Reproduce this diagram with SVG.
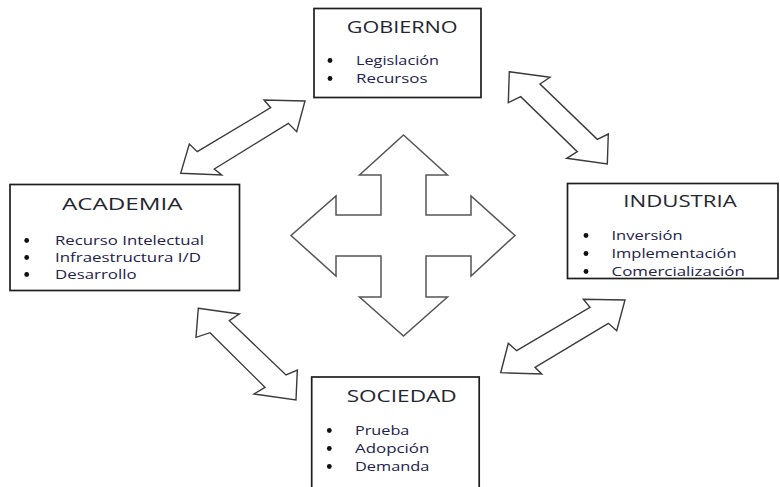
<svg xmlns="http://www.w3.org/2000/svg" width="780" height="487" viewBox="0 0 780 487">
  <style>
    .box { fill: #ffffff; stroke: #1e1e1e; stroke-width: 1.7; }
    .title { font-family: "Open Sans", "Noto Sans", "DejaVu Sans", sans-serif; font-size: 16px; font-weight: 500; fill: #262630; }
    .item { font-family: "Open Sans", "Noto Sans", "DejaVu Sans", sans-serif; font-size: 13.5px; font-weight: 500; fill: #22214a; }
    .dot { fill: #111111; }
    .arrow { fill: #ffffff; stroke: #3a3a3a; stroke-width: 1.4; stroke-linejoin: miter; }
    .cross { fill: #ffffff; stroke: #555555; stroke-width: 1.5; stroke-linejoin: miter; }
  </style>

  <!-- Double-headed block arrows linking the four sectors -->
  <g id="connectors">
    <polygon class="arrow" points="305,101 264,100 270.7,107.7 197.3,151.7 189.3,144 180.7,173.3 221.7,175 214.3,169 288.3,123.3 296.7,131.7"/>
    <polygon class="arrow" points="509.3,71.7 550,77.3 540,84 597.3,139.3 608.3,134 607.3,164 566.7,158.3 577.3,151.7 520.7,96.7 508.3,102.7"/>
    <polygon class="arrow" points="198.3,308.3 239.3,314 229.3,320.7 286,375 297.3,370 296,400 254,394 265,387.3 210,332.7 196,337.3"/>
    <polygon class="arrow" points="625,300 583.3,299.3 590,307.3 516.7,350.7 508.3,343.3 500.7,372.7 541.7,374 535,367.3 608.3,323.3 616.7,330.7"/>
    <!-- four-way arrow in the centre -->
    <polygon class="cross" points="403.5,135 447.5,175 426,175 426,215 471,215 471,196 515,235.5 471,276 471,256 426,256 426,297 447.5,297 403.5,336 359.5,297 381,297 381,256 336,256 336,276 291,235.5 336,196 336,215 381,215 381,175 359.5,175"/>
  </g>

  <g id="gobierno">
    <rect class="box" x="314" y="8.5" width="167" height="89"/>
    <text class="title" x="346.7" y="32.5" textLength="111" lengthAdjust="spacingAndGlyphs">GOBIERNO</text>
    <circle class="dot" cx="330" cy="60.5" r="2.4"/>
    <text class="item" x="356" y="64.5" textLength="83" lengthAdjust="spacingAndGlyphs">Legislación</text>
    <circle class="dot" cx="330" cy="78.5" r="2.4"/>
    <text class="item" x="356" y="82.5" textLength="71.5" lengthAdjust="spacingAndGlyphs">Recursos</text>
  </g>

  <g id="academia">
    <rect class="box" x="10" y="184.5" width="229.5" height="106"/>
    <text class="title" x="62" y="209.5" textLength="120.5" lengthAdjust="spacingAndGlyphs">ACADEMIA</text>
    <circle class="dot" cx="26.7" cy="240.5" r="2.4"/>
    <text class="item" x="55" y="244.5" textLength="149" lengthAdjust="spacingAndGlyphs">Recurso Intelectual</text>
    <circle class="dot" cx="26.7" cy="257.5" r="2.4"/>
    <text class="item" x="55" y="261.5" textLength="146" lengthAdjust="spacingAndGlyphs">Infraestructura I/D</text>
    <circle class="dot" cx="26.7" cy="274.5" r="2.4"/>
    <text class="item" x="55" y="278.5" textLength="81.5" lengthAdjust="spacingAndGlyphs">Desarrollo</text>
  </g>

  <g id="industria">
    <rect class="box" x="567.5" y="183.5" width="210.5" height="95"/>
    <text class="title" x="623.3" y="206.5" textLength="113.4" lengthAdjust="spacingAndGlyphs">INDUSTRIA</text>
    <circle class="dot" cx="586" cy="235.5" r="2.4"/>
    <text class="item" x="611.5" y="239.5" textLength="71" lengthAdjust="spacingAndGlyphs">Inversión</text>
    <circle class="dot" cx="586" cy="253.5" r="2.4"/>
    <text class="item" x="611.5" y="257.5" textLength="125" lengthAdjust="spacingAndGlyphs">Implementación</text>
    <circle class="dot" cx="586" cy="271.5" r="2.4"/>
    <text class="item" x="611.5" y="275.5" textLength="133.3" lengthAdjust="spacingAndGlyphs">Comercialización</text>
  </g>

  <g id="sociedad">
    <rect class="box" x="311.7" y="377" width="167.5" height="120"/>
    <text class="title" x="346.7" y="402.3" textLength="110" lengthAdjust="spacingAndGlyphs">SOCIEDAD</text>
    <circle class="dot" cx="329.3" cy="430.5" r="2.4"/>
    <text class="item" x="355" y="434.5" textLength="54.3" lengthAdjust="spacingAndGlyphs">Prueba</text>
    <circle class="dot" cx="329.3" cy="448.5" r="2.4"/>
    <text class="item" x="355" y="452.5" textLength="74.3" lengthAdjust="spacingAndGlyphs">Adopción</text>
    <circle class="dot" cx="329.3" cy="466.5" r="2.4"/>
    <text class="item" x="355" y="470.5" textLength="74.3" lengthAdjust="spacingAndGlyphs">Demanda</text>
  </g>
</svg>
